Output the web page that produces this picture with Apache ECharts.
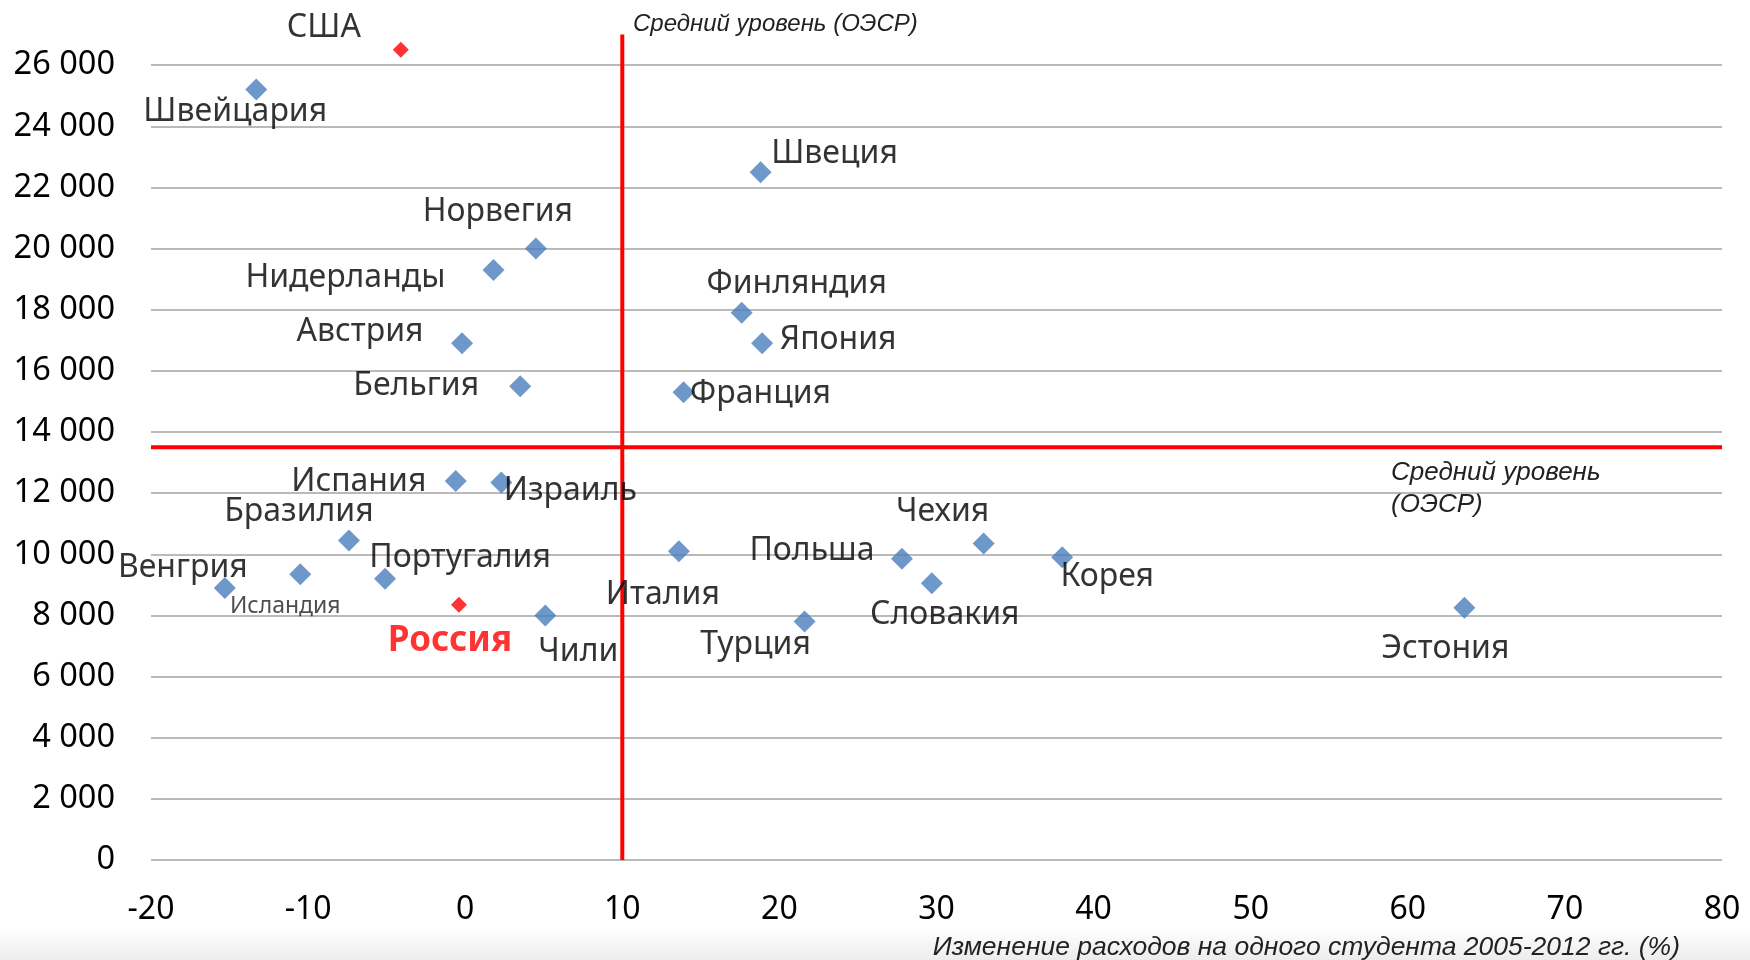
<!DOCTYPE html>
<html>
<head>
<meta charset="utf-8">
<script src="https://cdn.jsdelivr.net/npm/echarts@6/dist/echarts.min.js"></script>
<style>
  html, body { margin: 0; padding: 0; background: #fff; }
  #chart { width: 1750px; height: 960px; }
</style>
</head>
<body>
<div id="chart"></div>
<script>
// страны и значения
var countries = ['США', 'Швейцария', 'Швеция', 'Норвегия', 'Нидерланды', 'Финляндия', 'Австрия', 'Япония',
  'Бельгия', 'Франция', 'Испания', 'Израиль', 'Бразилия', 'Италия', 'Венгрия', 'Исландия', 'Португалия',
  'Россия', 'Чили', 'Турция', 'Польша', 'Словакия', 'Чехия', 'Корея', 'Эстония'];
// изменение расходов на одного студента 2005-2012, %
var spendChange = [-4.1, -13.3, 18.8, 4.5, 1.8, 17.6, -0.2, 18.9,
  3.5, 13.9, -0.6, 2.3, -7.4, 13.6, -15.3, -10.5, -5.1,
  -0.4, 5.1, 21.6, 27.8, 29.7, 33.0, 38.0, 63.6];
// расходы на одного студента, USD
var spendPerStudent = [26500, 25200, 22500, 20000, 19300, 17900, 16900, 16900,
  15500, 15300, 12400, 12350, 10450, 10100, 8900, 9350, 9200,
  8350, 8000, 7800, 9850, 9050, 10350, 9900, 8250];
var highlighted = ['США', 'Россия'];

// средний уровень ОЭСР
var oecdAvgChange = 10;
var oecdAvgSpend = 13500;
var oecdLineTop = 27000;

var xMin = -20, xMax = 80, xStep = 10;
var yMin = 0, yMax = 28000, yStep = 2000;

// сдвиг подписи от точки, px
var labelOffsets = {
  'США': [-77, -22], 'Швейцария': [-21, 22], 'Швеция': [74, -18], 'Норвегия': [-38, -37],
  'Нидерланды': [-148, 8], 'Финляндия': [55, -29], 'Австрия': [-102, -11], 'Япония': [76, -3],
  'Бельгия': [-104, 0], 'Франция': [77, 2], 'Испания': [-97, 1], 'Израиль': [69, 8],
  'Бразилия': [-50, -29], 'Италия': [-16, 44], 'Венгрия': [-42, -20], 'Исландия': [-15, 32],
  'Португалия': [75, -21], 'Россия': [-9, 36], 'Чили': [33, 36], 'Турция': [-49, 23],
  'Польша': [-90, -8], 'Словакия': [13, 32], 'Чехия': [-41, -32], 'Корея': [45, 20], 'Эстония': [-19, 41]
};

var FONT = '"Noto Sans", sans-serif';
var ITALIC_FONT = '"Liberation Sans", Arial, sans-serif';

function point(i) {
  var name = countries[i];
  var label = {
    show: true,
    position: 'inside',
    offset: labelOffsets[name],
    formatter: '{b}',
    color: '#000',
    fontFamily: FONT,
    fontSize: 32
  };
  if (name === 'Россия') {
    label.color = '#ff0000';
    label.fontWeight = 'bold';
    label.fontSize = 35;
  }
  if (name === 'Исландия') {
    label.fontSize = 23;
    label.color = '#222';
  }
  return { name: name, value: [spendChange[i], spendPerStudent[i]], label: label };
}

var bluePoints = [], redPoints = [];
countries.forEach(function (c, i) {
  (highlighted.indexOf(c) >= 0 ? redPoints : bluePoints).push(point(i));
});

var myChart = echarts.init(document.getElementById('chart'));
var option = {
  backgroundColor: '#fff',
  animation: false,
  grid: { left: 151, right: 28, top: 4, bottom: 100 },
  xAxis: {
    type: 'value',
    min: xMin, max: xMax, interval: xStep,
    axisLine: { show: false },
    axisTick: { show: false },
    splitLine: { show: false },
    axisLabel: { color: '#000', fontFamily: FONT, fontSize: 32, margin: 34 }
  },
  yAxis: {
    type: 'value',
    min: yMin, max: yMax, interval: yStep,
    axisLine: { show: false },
    axisTick: { show: false },
    splitLine: { show: true, showMaxLine: false, lineStyle: { color: '#a3a3a3', width: 1.5 } },
    axisLabel: {
      color: '#000', fontFamily: FONT, fontSize: 32.5, margin: 36, showMaxLabel: false,
      formatter: function (v) { return String(v).replace(/\B(?=(\d{3})+(?!\d))/g, ' '); }
    }
  },
  graphic: [
    {
      type: 'rect', left: 0, top: 928, shape: { width: 1750, height: 32 }, silent: true, z: -10,
      style: {
        fill: new echarts.graphic.LinearGradient(0, 0, 0, 1, [
          { offset: 0, color: '#ffffff' }, { offset: 1, color: '#ececec' }
        ])
      }
    },
    {
      type: 'text', left: 633, top: 12,
      style: { text: 'Средний уровень (ОЭСР)', font: 'italic 24px ' + ITALIC_FONT, fill: '#222' }
    },
    {
      type: 'text', left: 1391, top: 457,
      style: { text: 'Средний уровень\n(ОЭСР)', font: 'italic 26px ' + ITALIC_FONT, fill: '#222', lineHeight: 32 }
    },
    {
      type: 'text', right: 70, top: 934,
      style: { text: 'Изменение расходов на одного студента 2005-2012 гг. (%)', font: 'italic 26.5px ' + ITALIC_FONT, fill: '#222' }
    }
  ],
  series: [
    {
      type: 'line', silent: true, symbol: 'none', z: 1,
      lineStyle: { color: '#ff0000', width: 4 },
      data: [[oecdAvgChange, yMin], [oecdAvgChange, oecdLineTop]]
    },
    {
      type: 'line', silent: true, symbol: 'none', z: 1,
      lineStyle: { color: '#ff0000', width: 4 },
      data: [[xMin, oecdAvgSpend], [xMax, oecdAvgSpend]]
    },
    {
      type: 'scatter', symbol: 'diamond', symbolSize: 22, z: 3,
      itemStyle: { color: '#4a7ebb' },
      data: bluePoints
    },
    {
      type: 'scatter', symbol: 'diamond', symbolSize: 16, z: 3,
      itemStyle: { color: '#ff0000' },
      data: redPoints
    }
  ]
};
myChart.setOption(option);
</script>
</body>
</html>
